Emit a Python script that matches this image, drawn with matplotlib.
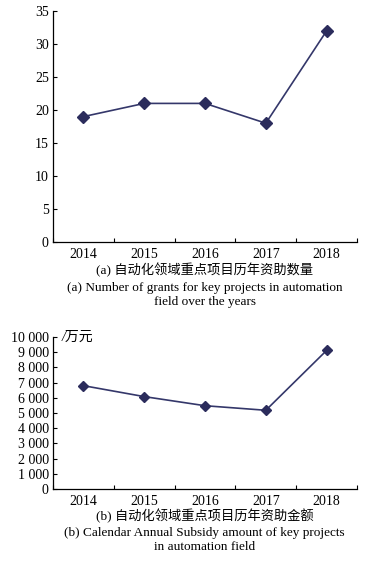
import matplotlib.pyplot as plt
from matplotlib.ticker import FuncFormatter

years = ["2014", "2015", "2016", "2017", "2018"]
grant_counts = [19, 21, 21, 18, 32]
grant_amounts = [6800, 6080, 5480, 5180, 9120]

cap_a_cn = "(a) 自动化领域重点项目历年资助数量"
cap_a_en = "(a) Number of grants for key projects in automation\nfield over the years"
cap_b_cn = "(b) 自动化领域重点项目历年资助金额"
cap_b_en = "(b) Calendar Annual Subsidy amount of key projects\nin automation field"

SERIF = ["Liberation Serif", "DejaVu Serif"]
CJK = ["Liberation Serif", "Noto Sans CJK SC"]
LINE_C = "#34376a"
MARK_C = "#2b2c5c"
FS = 9.5
TICK_FS = 10

plt.rcParams["font.family"] = SERIF


def style_axes(ax):
    x = list(range(len(years)))
    ax.set_xlim(-0.5, len(years) - 0.5)
    ax.set_xticks(x)
    ax.set_xticklabels(years, fontsize=TICK_FS)
    ax.set_xticks([i - 0.5 for i in range(len(years) + 1)], minor=True)
    ax.tick_params(axis="x", which="major", length=0, pad=4)
    ax.tick_params(axis="x", which="minor", direction="in", length=3, width=0.8)
    ax.tick_params(axis="y", direction="in", length=3, width=0.8, labelsize=TICK_FS, pad=3)
    for s in ["top", "right"]:
        ax.spines[s].set_visible(False)
    for s in ["left", "bottom"]:
        ax.spines[s].set_linewidth(0.9)


fig = plt.figure(figsize=(3.69, 5.65), dpi=100)

# (a) 资助数量
ax1 = fig.add_axes([0.1436, 0.5717, 0.824, 0.4088])
ax1.plot(range(len(years)), grant_counts, color=LINE_C, lw=1.2,
         marker="D", markersize=6.5, markerfacecolor=MARK_C, markeredgecolor=MARK_C)
ax1.set_ylim(0, 35)
ax1.set_yticks(range(0, 36, 5))
style_axes(ax1)
fig.text(0.555, 1 - 270 / 565, cap_a_cn, ha="center", va="center", fontsize=FS, family=CJK)
fig.text(0.555, 1 - 295 / 565, cap_a_en, ha="center", va="center", fontsize=FS,
         linespacing=1.3)

# (b) 资助金额
ax2 = fig.add_axes([0.1436, 0.1345, 0.824, 0.269])
ax2.plot(range(len(years)), grant_amounts, color=LINE_C, lw=1.2,
         marker="D", markersize=5, markerfacecolor=MARK_C, markeredgecolor=MARK_C)
ax2.set_ylim(0, 10000)
ax2.set_yticks(range(0, 10001, 1000))
ax2.yaxis.set_major_formatter(FuncFormatter(lambda v, p: f"{int(v):,}".replace(",", " ")))
style_axes(ax2)
ax2.text(0.03, 1.0, "/万元", transform=ax2.transAxes, ha="left", va="center",
         fontsize=TICK_FS, family=CJK, style="italic")
fig.text(0.555, 1 - 516 / 565, cap_b_cn, ha="center", va="center", fontsize=FS, family=CJK)
fig.text(0.555, 1 - 540 / 565, cap_b_en, ha="center", va="center", fontsize=FS,
         linespacing=1.3)

fig.savefig("out.png", dpi=100)
